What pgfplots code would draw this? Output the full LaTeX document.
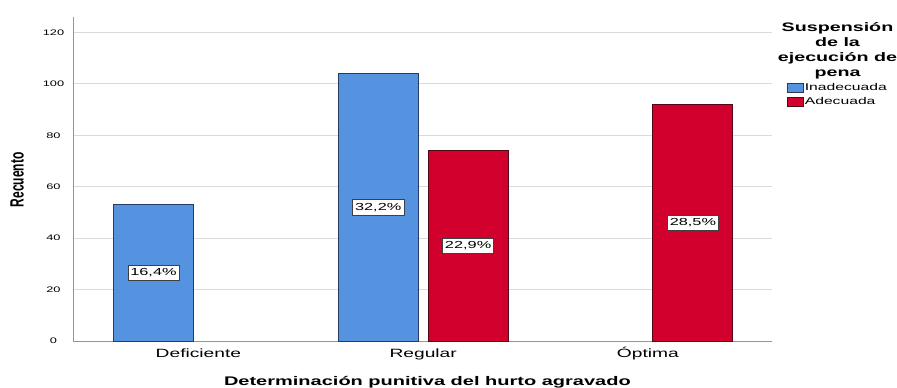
\documentclass[border=0pt]{standalone}
\usepackage{fontspec}
\setmainfont{Liberation Sans}[FakeStretch=1.6]
\newfontfamily\plainsans{Liberation Sans}
\usepackage{graphicx}
\usepackage{pgfplots}
\pgfplotsset{compat=1.18}

\definecolor{inadecuada}{RGB}{85,146,224}
\definecolor{adecuada}{RGB}{210,0,45}
\definecolor{inadecuadaedge}{RGB}{38,58,100}
\definecolor{adecuadaedge}{RGB}{80,10,20}
\definecolor{gridgray}{RGB}{218,218,218}
\definecolor{axisgray}{RGB}{150,150,150}

% counts per category (x: 0 = Deficiente, 1 = Regular, 2 = Optima)
\pgfplotstableread{
x y
0 53
1 104
}\inadecuadadata
\pgfplotstableread{
x y
1 74
2 92
}\adecuadadata

\begin{document}
\begin{tikzpicture}
\begin{axis}[
  at={(0,0)}, anchor=south west,
  scale only axis, width=699pt, height=324pt,
  xmin=-0.558, xmax=2.552, ymin=0, ymax=126,
  axis x line*=bottom, axis y line*=left,
  axis line style={axisgray, line width=0.8pt, -},
  xtick={0,1,2}, xticklabels={Deficiente,Regular,Óptima},
  ytick={0,20,...,120},
  major tick length=0pt,
  ymajorgrids, grid style={gridgray, line width=0.8pt},
  /pgf/number format/assume math mode=true,
  yticklabel style={anchor=center, xshift=-19.5pt, font=\fontsize{8}{9}\selectfont},
  xticklabel style={anchor=base, yshift=-16pt, font=\fontsize{12}{14}\selectfont},
  xlabel={Determinación punitiva del hurto agravado},
  every axis x label/.style={at={(rel axis cs:0.507,0)}, anchor=base, yshift=-44.5pt,
    font=\bfseries\fontsize{12.5}{14}\selectfont},
  ylabel={\scalebox{1}[1.6]{\plainsans\bfseries\fontsize{12}{14}\selectfont Recuento}},
  every axis y label/.style={at={(rel axis cs:0,0.497)}, rotate=90, anchor=center, yshift=56pt},
  clip=false,
  legend style={draw=none, fill=none, at={(rel axis cs:1.0215,0.799)}, anchor=north west,
    inner sep=0pt, outer sep=0pt, row sep=3pt,
    nodes={inner sep=1.2pt}, font=\fontsize{9.8}{11}\selectfont},
  legend cell align=left,
  barlabel/.style={
    nodes near coords={\pgfmathprintnumber[fixed,fixed zerofill,precision=1,use comma]{\pgfplotspointmeta}\%},
    point meta={y*100/323},
    visualization depends on={y \as \rawy},
    every node near coord/.append style={anchor=center, fill=white, draw=black!75,
      line width=0.6pt, inner xsep=2.5pt, inner ysep=3.5pt,
      font=\fontsize{10.2}{12}\selectfont, text=black,
      shift={(axis direction cs:#1,-\rawy/2)}},
  },
]
\addplot[ybar, bar width=0.356, bar shift=-0.2, fill=inadecuada, draw=inadecuadaedge,
  line width=0.8pt, barlabel=-0.2,
  legend image code/.code={\draw[fill=inadecuada, draw=inadecuadaedge, line width=0.6pt] (0pt,-4.5pt) rectangle (16pt,4.5pt);}]
  table[x=x, y=y] {\inadecuadadata};
\addlegendentry{Inadecuada}
\addplot[ybar, bar width=0.356, bar shift=0.2, fill=adecuada, draw=adecuadaedge,
  line width=0.8pt, barlabel=0.2,
  legend image code/.code={\draw[fill=adecuada, draw=adecuadaedge, line width=0.6pt] (0pt,-4.5pt) rectangle (16pt,4.5pt);}]
  table[x=x, y=y] {\adecuadadata};
\addlegendentry{Adecuada}
\node[anchor=north, align=center, inner sep=0pt,
  font=\bfseries\fontsize{12.3}{15}\selectfont]
  at (rel axis cs:1.0937,0.985) {Suspensión\\de la\\ejecución de\\pena};
\end{axis}
\pgfresetboundingbox
\path[use as bounding box] (-73pt,-47pt) rectangle (824pt,341pt);
\end{tikzpicture}
\end{document}
